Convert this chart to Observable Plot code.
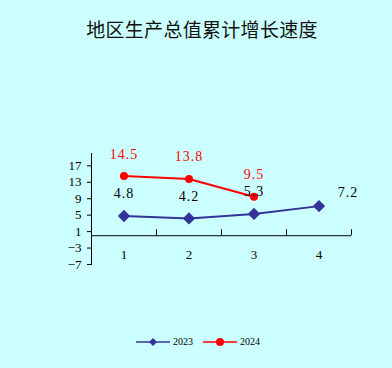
<!DOCTYPE html>
<html><head><meta charset="utf-8">
<script src="https://cdn.jsdelivr.net/npm/d3@7"></script>
<script src="https://cdn.jsdelivr.net/npm/@observablehq/plot@0.6"></script>
<style>
html,body{margin:0;padding:0;background:#CCFFFF;}
#wrap{position:relative;width:392px;height:368px;background:#CCFFFF;overflow:hidden;}
#title{position:absolute;top:15px;left:6px;width:392px;text-align:center;font-family:"Noto Sans CJK SC",sans-serif;font-size:19px;color:#111;letter-spacing:0.3px;}
#chart{position:absolute;top:0;left:0;}
#legend{position:absolute;top:336px;left:2px;width:392px;display:flex;justify-content:center;align-items:center;gap:10px;font-family:"Liberation Serif",serif;font-size:10px;color:#000;}
.item{display:flex;align-items:center;gap:3px;}
</style></head>
<body><div id="wrap"><div id="title">地区生产总值累计增长速度</div><div id="chart"></div><div id="legend"></div></div>
<script>
const categories = [1, 2, 3, 4];
const values2023 = [4.8, 4.2, 5.3, 7.2];
const values2024 = [14.5, 13.8, 9.5];
const yTicks = [-7, -3, 1, 5, 9, 13, 17];
const seriesNames = ["2023", "2024"];
const colors = ["#333399", "#FF0000"];

const d2023 = categories.map((c, i) => ({cat: c, v: values2023[i], label: values2023[i].toFixed(1)}));
const d2024 = values2024.map((v, i) => ({cat: categories[i], v, label: v.toFixed(1)}));

const serif = "Liberation Serif, serif";
const plot = Plot.plot({
  width: 392, height: 300,
  marginTop: 153, marginBottom: 36, marginLeft: 91, marginRight: 41,
  style: {background: "transparent", fontFamily: serif, fontSize: "13px", color: "#000", overflow: "visible"},
  x: {type: "band", domain: categories, padding: 0, axis: null, label: null},
  y: {domain: [-7, 20], axis: null, label: null},
  marks: [
    Plot.frame({anchor: "left", stroke: "#000"}),
    Plot.ruleY([0], {stroke: "#000"}),
    Plot.ruleX(d2023, {x: "cat", y1: 0, y2: 0, insetTop: -6, dx: 32.5, stroke: "#000"}),
    Plot.axisY({ticks: yTicks, label: null, tickSize: 4, tickPadding: 6, fontSize: 13, fontFamily: serif, tickFormat: d => d < 0 ? "\u2212" + Math.abs(d) : String(d)}),
    Plot.axisX({label: null, tickSize: 0, tickPadding: 3, dy: -18, fontSize: 13, fontFamily: serif}),
    Plot.line(d2023, {x: "cat", y: "v", stroke: colors[0], strokeWidth: 2}),
    Plot.dot(d2023, {x: "cat", y: "v", symbol: "diamond2", r: 4.6, fill: colors[0], stroke: colors[0]}),
    Plot.line(d2024, {x: "cat", y: "v", stroke: colors[1], strokeWidth: 2}),
    Plot.dot(d2024, {x: "cat", y: "v", r: 4, fill: colors[1]}),
    Plot.text(d2023.slice(0, 3), {x: "cat", y: "v", text: "label", dy: -22, fill: "#000", fontSize: 14, fontFamily: serif}),
    Plot.text(d2023.slice(3), {x: "cat", y: "v", text: "label", dy: -14, dx: 29, fill: "#000", fontSize: 14, fontFamily: serif}),
    Plot.text(d2024, {x: "cat", y: "v", text: "label", dy: -22, fill: colors[1], fontSize: 14, fontFamily: serif})
  ]
});
plot.querySelectorAll("g[aria-label='text'] text").forEach(t => t.setAttribute("letter-spacing", "1"));
document.getElementById("chart").appendChild(plot);

const legend = document.getElementById("legend");
seriesNames.forEach((name, i) => {
  const item = document.createElement("div");
  item.className = "item";
  const marker = i === 0
    ? `<path d="M17,1 L21,5 L17,9 L13,5 Z" fill="${colors[i]}"/>`
    : `<circle cx="17" cy="5" r="4" fill="${colors[i]}"/>`;
  item.innerHTML = `<svg width="34" height="10"><line x1="0" y1="5" x2="34" y2="5" stroke="${colors[i]}" stroke-width="1.5"/>${marker}</svg><span>${name}</span>`;
  legend.appendChild(item);
});
</script></body></html>
